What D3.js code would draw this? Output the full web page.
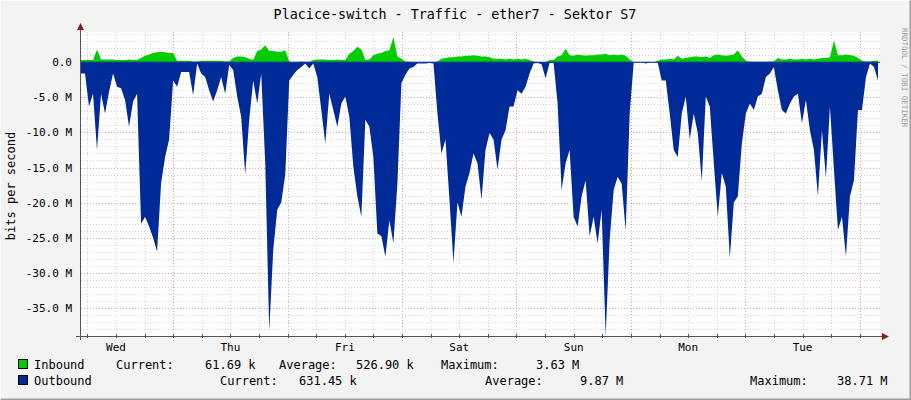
<!DOCTYPE html>
<html><head><meta charset="utf-8">
<script src="https://cdn.jsdelivr.net/npm/d3@7"></script>
<style>body{margin:0;background:#f3f3f3}svg{display:block;font-family:"DejaVu Sans Mono",monospace}</style>
</head><body><svg id="c" width="911" height="400"></svg>
<script>
const title = "Placice-switch - Traffic - ether7 - Sektor S7";
const dayLabels = ["Wed","Thu","Fri","Sat","Sun","Mon","Tue"];
const yTicks = [0,-5,-10,-15,-20,-25,-30,-35];
const startHour = 4.66, stepHour = 0.84;
const inbound = [
0.3,0.3,0.3,0.3,1.8,0.4,0.4,0.4,0.4,0.3,
0.3,0.3,0.4,0.3,0.3,0.6,0.9,1.1,1.3,1.4,1.5,1.4,1.3,1.3,0.2,
0.2,0.2,0.2,0.1,0.1,0.2,0.2,0.2,0.2,0.2,0.2,0.1,0.1,
0.6,0.8,0.8,0.7,0.5,0.3,1.6,1.8,2.4,1.6,1.6,1.5,
1.5,1.7,0.1,0,0,0.1,0,0,0.3,0.4,0.4,0.4,0.3,0.3,0.4,0.3,
0.3,1.2,1.6,2.2,1.8,0.3,0.4,1.0,1.2,1.3,1.6,1.7,3.6,0.8,0.5,
0.1,0.05,0,0,0,0,0,0,0.1,
0.5,0.6,0.7,0.7,0.8,0.8,0.9,0.9,1.0,0.9,0.8,0.8,0.7,
0.5,0.5,0.5,0.4,0.5,0.4,0.5,0.4,0.5,0.3,0.1,
0,0,0,0.3,0.3,0.8,1.0,1.9,
1.0,0.9,1.1,1.0,0.9,1.0,1.0,1.1,1.1,1.2,1.0,1.1,1.0,1.1,0.9,0.4,
0,0,0,0,0,0,0.2,0.4,0.4,0.5,0.4,0.9,0.5,0.6,0.7,
0.8,0.8,0.7,0.8,0.6,1.0,1.1,1.0,0.9,1.0,1.1,1.7,0.8,0.2,
0.05,0.05,0.05,0.05,0.05,0.1,0.1,0.6,
0.4,0.4,0.5,0.4,0.4,0.5,0.4,0.5,0.4,0.5,0.6,0.6,0.7,3.1,1.0,
1.0,1.1,1.0,0.9,0.6,0.2,0.1,0.1,0.2,0.2];
const outbound = [
1.6,1.6,6.3,4.5,12.5,4.5,7.3,4.2,1.6,3.5,
3.7,5.4,9.2,5.6,4.5,23,22,23.4,25,27,17.2,13.5,11,2.6,3.5,
1.4,1.4,1.4,4.7,0.2,1.6,2.1,4,5.6,4,2.1,4.5,0.4,
1.1,4.9,7.8,16,8.2,2.6,5.9,1.6,14.4,38.3,26.7,21,
20,16,2.6,1.8,1.1,0.7,0.2,0.9,0.2,2.1,6.8,11.6,4.5,6.8,9.2,5.9,
4.9,7.8,14.9,19.1,22,8.2,9.2,13.5,24.4,24.8,27.7,22.5,25.8,17.3,3,
1.8,0.9,0.7,0.2,0.2,0.2,0.1,0.2,7.3,
13,11,19.6,28.6,20,22,17.7,15.8,13,14.4,19.6,12.5,10.1,
11,15.3,11,9.7,6.3,6.3,4,4.5,3.5,1.6,0.2,
0.1,0.3,2.3,0.1,0.1,5.9,18.2,14.4,
12.5,22,23.4,19.1,16.8,24.8,22,25.8,21,39,25.3,18.2,16.3,17.3,24,7.3,
0.05,0.05,0.05,0.2,0.05,0.05,0.05,2.6,2.6,7.3,12.5,13.5,7.3,4.9,11,
7.3,10.1,17,4.9,6.3,14.4,22,15.8,17.7,27.9,20,19.1,11.6,7.3,
5.9,6.8,4.9,4.5,2.1,1.6,0.7,4,
6.8,7.3,5.9,4.9,4.5,8.7,5.4,9.7,12.5,19.1,9.7,16.5,6.3,15.3,23.9,
22,27.7,19.1,16.8,6.8,6.8,2.1,0.2,0.7,2.6];

const svg = d3.select("#c");
const L=81,R=880,T=32,B=336;
svg.append("rect").attr("x",0).attr("y",0).attr("width",911).attr("height",400).attr("fill","#f3f3f3");
svg.append("path").attr("d","M0.5,399.5V0.5H910.5").attr("stroke","#fcfcfc").attr("fill","none");
svg.append("path").attr("d","M0.5,399.5H910.5V0.5").attr("stroke","#9e9e9e").attr("stroke-width",2).attr("fill","none");
const x = d3.scaleLinear().domain([startHour,startHour+199*stepHour]).range([L,R-2]);
const y = d3.scaleLinear().domain([-39,4.3]).range([B,T]);
svg.append("rect").attr("x",L).attr("y",T).attr("width",R-L).attr("height",B-T).attr("fill","#fff");
const g = svg.append("g");
const xEnd = x.invert(R);
for(let h=6; h<xEnd; h+=6){ if(h<startHour) continue;
  const mj = h%24===0;
  g.append("line").attr("x1",Math.round(x(h))+0.5).attr("x2",Math.round(x(h))+0.5).attr("y1",T).attr("y2",B)
   .attr("stroke",mj?"#e8a0a0":"#d6d6d6").attr("stroke-dasharray","1,2");
}
for(let v=-38; v<=4; v++){
  const mj = v%5===0;
  g.append("line").attr("x1",L).attr("x2",R).attr("y1",Math.round(y(v))+0.5).attr("y2",Math.round(y(v))+0.5)
   .attr("stroke",mj?"#e8a0a0":"#d6d6d6").attr("stroke-dasharray","1,2");
}
const hrs = i=>startHour+i*stepHour;
const inArea = d3.area().curve(d3.curveLinear).x((d,i)=>x(hrs(i))).y0(y(0)).y1(d=>y(d));
const outArea = d3.area().curve(d3.curveLinear).x((d,i)=>x(hrs(i))).y0(y(0)).y1(d=>y(-d));
g.append("path").datum(inbound).attr("d",inArea).attr("fill","#00cc00");
g.append("path").datum(outbound).attr("d",outArea).attr("fill","#002a97");
g.append("line").attr("x1",L).attr("x2",R).attr("y1",y(0)).attr("y2",y(0)).attr("stroke","#002a97");
svg.append("line").attr("x1",L-0.5).attr("x2",L-0.5).attr("y1",T-4).attr("y2",B+4).attr("stroke","#555");
svg.append("line").attr("x1",L-5).attr("x2",R+3).attr("y1",B+0.5).attr("y2",B+0.5).attr("stroke","#555");
svg.append("path").attr("d",`M${L-4},${T-2}L${L-0.5},${T-9}L${L+3},${T-2}Z`).attr("fill","#8b1a1a");
svg.append("path").attr("d",`M${R+2},${B-3}L${R+9},${B+0.5}L${R+2},${B+4}Z`).attr("fill","#8b1a1a");
for(let h=6; h<xEnd; h+=6){ if(h<startHour) continue;
  svg.append("line").attr("x1",Math.round(x(h))+0.5).attr("x2",Math.round(x(h))+0.5).attr("y1",B-2).attr("y2",B+2).attr("stroke","#555");
}
const tf = "11px";
dayLabels.forEach((d,i)=>{
  svg.append("text").attr("x",x(24*i+12)).attr("y",351).attr("text-anchor","middle").attr("font-size",tf).attr("fill","#000").text(d);
});
yTicks.forEach(v=>{
  svg.append("text").attr("x",72).attr("y",y(v)+4).attr("text-anchor","end").attr("font-size",tf).text(v===0?"0.0":v.toFixed(1)+" M");
});
svg.append("text").attr("x",455).attr("y",19).attr("text-anchor","middle").attr("font-size","13.4px").text(title);
svg.append("text").attr("transform","translate(15,186) rotate(-90)").attr("text-anchor","middle").attr("font-size","12px").text("bits per second");
svg.append("text").attr("transform","translate(902,28) rotate(90)").attr("font-size","7.5px").attr("fill","#999").text("RRDTOOL / TOBI OETIKER");
const lf="12px";
const leg=[[368,"#00cc00",[[34,"Inbound"],[116,"Current:"],[205,"61.69 k"],[279,"Average:"],[356,"526.90 k"],[441,"Maximum:"],[536,"3.63 M"]]],
           [384,"#002a97",[[34,"Outbound"],[220,"Current:"],[299,"631.45 k"],[485,"Average:"],[580,"9.87 M"],[750,"Maximum:"],[837,"38.71 M"]]]];
leg.forEach(([yy,c,items])=>{
  svg.append("rect").attr("x",18.5).attr("y",yy-8.5).attr("width",9).attr("height",9).attr("fill",c).attr("stroke","#000");
  items.forEach(([xx,t])=>svg.append("text").attr("x",xx).attr("y",yy+1).attr("font-size",lf).attr("xml:space","preserve").text(t));
});
</script></body></html>
